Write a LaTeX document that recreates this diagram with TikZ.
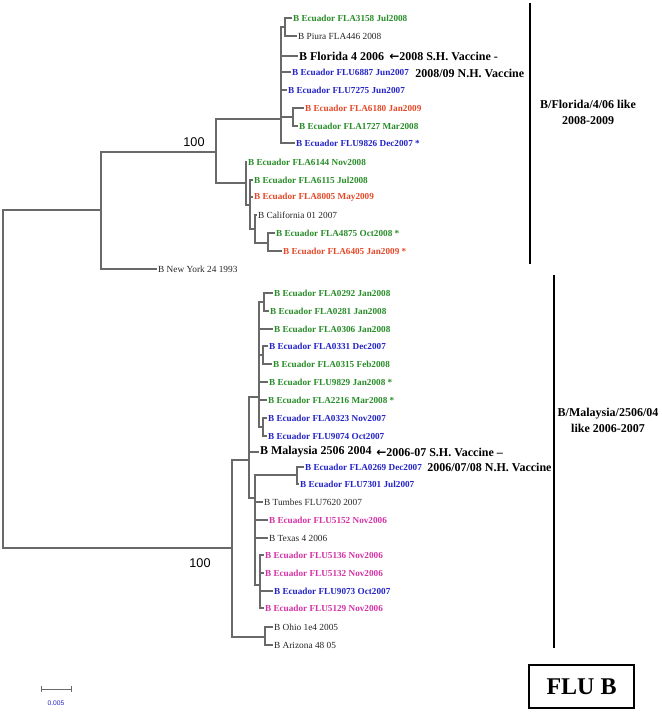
\documentclass[tikz,border=0pt]{standalone}
\usepackage{fontspec}
\setmainfont{Liberation Serif}
\newfontfamily\sansf{Liberation Sans}
\newfontfamily\arrowf{DejaVu Sans}
\definecolor{fgreen}{RGB}{40,140,40}
\definecolor{fblue}{RGB}{35,35,200}
\definecolor{fred}{RGB}{228,72,40}
\definecolor{fmag}{RGB}{212,50,165}
\definecolor{treeg}{RGB}{105,105,105}
\newcommand{\larr}{{\arrowf\bfseries ←}}
\tikzset{
  br/.style={draw=treeg, line width=0.8pt},
  lab/.style={anchor=west, inner sep=0.6pt, font=\fontsize{6.9}{8}\selectfont\bfseries},
  ref/.style={anchor=west, inner sep=0.6pt, font=\fontsize{7}{8}\selectfont, text=black!85},
  big/.style={anchor=west, inner sep=0.6pt, font=\fontsize{9}{10}\selectfont\bfseries},
  ann/.style={anchor=west, inner sep=0pt, font=\fontsize{9}{10}\selectfont\bfseries},
  boot/.style={font=\sansf\fontsize{9.5}{10}\selectfont, inner sep=0pt},
  gr/.style={text=fgreen}, bl/.style={text=fblue}, rd/.style={text=fred}, mg/.style={text=fmag},
  bracket/.style={draw=black, line width=1.6pt},
  grp/.style={align=center, font=\fontsize{9}{12}\selectfont\bfseries, inner sep=0pt}
}
\begin{document}
\begin{tikzpicture}[x=0.75pt,y=-0.75pt]
\useasboundingbox (0,0) rectangle (661,713);
% internal nodes
\coordinate (R) at (3,379);
\coordinate (A) at (101,210);
\coordinate (B) at (216,152);
\coordinate (C) at (281,119);
\coordinate (I) at (285,27);
\coordinate (J) at (293,117);
\coordinate (D) at (246,183);
\coordinate (E) at (250,205);
\coordinate (F) at (255,229);
\coordinate (G) at (268,243);
\coordinate (K) at (232,548);
\coordinate (L) at (265,637);
\coordinate (M) at (249,460);
\coordinate (N) at (259,397);
\coordinate (N1) at (264,302);
\coordinate (N2) at (263,355);
\coordinate (N3) at (263,427);
\coordinate (P) at (255,498);
\coordinate (Q) at (297,475);
\coordinate (S) at (260,585);
% leaves (top clade)
\node[lab,gr] (t1) at (292,18) {B Ecuador FLA3158 Jul2008};
\node[ref] (t2) at (297,36) {B Piura FLA446 2008};
\node[big] (t3) at (298,56) {B Florida 4 2006};
\node[lab,bl] (t4) at (291,72) {B Ecuador FLU6887 Jun2007};
\node[lab,bl] (t5) at (287,90) {B Ecuador FLU7275 Jun2007};
\node[lab,rd] (t6) at (304,108) {B Ecuador FLA6180 Jan2009};
\node[lab,gr] (t7) at (298,126) {B Ecuador FLA1727 Mar2008};
\node[lab,bl] (t8) at (295,143) {B Ecuador FLU9826 Dec2007 *};
\node[lab,gr] (t9) at (247,162) {B Ecuador FLA6144 Nov2008};
\node[lab,gr] (t10) at (253,180) {B Ecuador FLA6115 Jul2008};
\node[lab,rd] (t11) at (253,197) {B Ecuador FLA8005 May2009};
\node[ref] (t12) at (257,215) {B California 01 2007};
\node[lab,gr] (t13) at (275,233) {B Ecuador FLA4875 Oct2008 *};
\node[lab,rd] (t14) at (282,251) {B Ecuador FLA6405 Jan2009 *};
\node[ref] (t15) at (157,269) {B New York 24 1993};
% leaves (bottom clade)
\node[lab,gr] (b1) at (273,293) {B Ecuador FLA0292 Jan2008};
\node[lab,gr] (b2) at (269,311) {B Ecuador FLA0281 Jan2008};
\node[lab,gr] (b3) at (273,329) {B Ecuador FLA0306 Jan2008};
\node[lab,bl] (b4) at (268,346) {B Ecuador FLA0331 Dec2007};
\node[lab,gr] (b5) at (272,364) {B Ecuador FLA0315 Feb2008};
\node[lab,gr] (b6) at (268,382) {B Ecuador FLU9829 Jan2008 *};
\node[lab,gr] (b7) at (267,400) {B Ecuador FLA2216 Mar2008 *};
\node[lab,bl] (b8) at (267,418) {B Ecuador FLA0323 Nov2007};
\node[lab,bl] (b9) at (267,436) {B Ecuador FLU9074 Oct2007};
\node[big] (b10) at (259,452) {B Malaysia 2506 2004};
\node[lab,bl] (b11) at (304,467) {B Ecuador FLA0269 Dec2007};
\node[lab,bl] (b12) at (299,484) {B Ecuador FLU7301 Jul2007};
\node[ref] (b13) at (263,502) {B Tumbes FLU7620 2007};
\node[lab,mg] (b14) at (268,520) {B Ecuador FLU5152 Nov2006};
\node[ref] (b15) at (268,538) {B Texas 4 2006};
\node[lab,mg] (b16) at (264,555) {B Ecuador FLU5136 Nov2006};
\node[lab,mg] (b17) at (264,573) {B Ecuador FLU5132 Nov2006};
\node[lab,bl] (b18) at (273,591) {B Ecuador FLU9073 Oct2007};
\node[lab,mg] (b19) at (264,608) {B Ecuador FLU5129 Nov2006};
\node[ref] (b20) at (273,627) {B Ohio 1e4 2005};
\node[ref] (b21) at (273,645) {B Arizona 48 05};
% branches
\draw[br] (R) |- (A);
\draw[br] (R) |- (K);
\draw[br] (A) |- (B);
\draw[br] (A) |- (t15.west);
\draw[br] (B) |- (C);
\draw[br] (B) |- (D);
\draw[br] (C) |- (I);
\draw[br] (I) |- (t1.west);
\draw[br] (I) |- (t2.west);
\draw[br] (C) |- (t3.west);
\draw[br] (C) |- (t4.west);
\draw[br] (C) |- (t5.west);
\draw[br] (C) |- (J);
\draw[br] (J) |- (t6.west);
\draw[br] (J) |- (t7.west);
\draw[br] (C) |- (t8.west);
\draw[br] (D) |- (t9.west);
\draw[br] (D) |- (E);
\draw[br] (E) |- (t10.west);
\draw[br] (E) |- (t11.west);
\draw[br] (E) |- (F);
\draw[br] (F) |- (t12.west);
\draw[br] (F) |- (G);
\draw[br] (G) |- (t13.west);
\draw[br] (G) |- (t14.west);
\draw[br] (K) |- (M);
\draw[br] (K) |- (L);
\draw[br] (L) |- (b20.west);
\draw[br] (L) |- (b21.west);
\draw[br] (M) |- (N);
\draw[br] (M) |- (b10.west);
\draw[br] (M) |- (P);
\draw[br] (N) |- (N1);
\draw[br] (N1) |- (b1.west);
\draw[br] (N1) |- (b2.west);
\draw[br] (N) |- (b3.west);
\draw[br] (N) |- (N2);
\draw[br] (N2) |- (b4.west);
\draw[br] (N2) |- (b5.west);
\draw[br] (N) |- (b6.west);
\draw[br] (N) |- (b7.west);
\draw[br] (N) |- (N3);
\draw[br] (N3) |- (b8.west);
\draw[br] (N3) |- (b9.west);
\draw[br] (P) |- (Q);
\draw[br] (Q) |- (b11.west);
\draw[br] (Q) |- (b12.west);
\draw[br] (P) |- (b13.west);
\draw[br] (P) |- (b14.west);
\draw[br] (P) |- (b15.west);
\draw[br] (P) |- (S);
\draw[br] (S) |- (b16.west);
\draw[br] (S) |- (b17.west);
\draw[br] (S) |- (b18.west);
\draw[br] (S) |- (b19.west);
% bootstrap values
\node[boot] (bs1) at (194,142) {100};
\node[boot] (bs2) at (200,563) {100};
% vaccine annotations
\node[ann] (v1) at (389,56) {\larr2008 S.H. Vaccine -};
\node[ann] (v2) at (415,73) {2008/09 N.H. Vaccine};
\node[ann] (v3) at (376,452) {\larr2006-07 S.H. Vaccine –};
\node[ann] (v4) at (427,467) {2006/07/08 N.H. Vaccine};
% clade brackets
\coordinate (c1t) at (530,3);
\coordinate (c1b) at (530,264);
\coordinate (c2t) at (554,275);
\coordinate (c2b) at (554,648);
\draw[bracket] (c1t) -- (c1b);
\draw[bracket] (c2t) -- (c2b);
\node[grp] (g1) at (588,112) {B/Florida/4/06 like\\2008-2009};
\node[grp] (g2) at (608,420) {B/Malaysia/2506/04\\like 2006-2007};
% scale bar
\coordinate (s1) at (41,689);
\coordinate (s2) at (71,689);
\draw[draw=treeg, line width=0.6pt] (s1) -- (s2);
\draw[draw=treeg, line width=0.6pt] ([yshift=-2.2pt]s1) -- ([yshift=2.2pt]s1);
\draw[draw=treeg, line width=0.6pt] ([yshift=-2.2pt]s2) -- ([yshift=2.2pt]s2);
\node[font=\sansf\fontsize{5}{6}\selectfont, text=fblue, inner sep=0pt] (sl) at (56,703) {0.005};
% title box
\node[draw=black, line width=1.2pt, minimum width=78.5pt, minimum height=32pt, inner sep=0pt, font=\fontsize{18}{20}\selectfont\bfseries] (title) at (581.5,686.5) {FLU B};
\end{tikzpicture}
\end{document}
